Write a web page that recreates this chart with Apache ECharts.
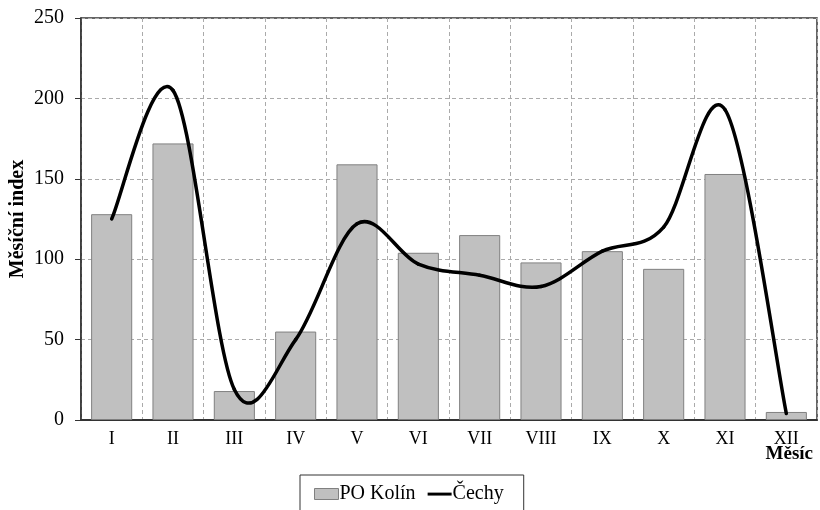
<!DOCTYPE html>
<html>
<head>
<meta charset="utf-8">
<script src="https://cdn.jsdelivr.net/npm/echarts@6/dist/echarts.min.js"></script>
<style>html,body{margin:0;padding:0;background:#fff}#c{width:820px;height:510px}</style>
</head>
<body>
<div id="c"></div>
<script>
const months = ['I','II','III','IV','V','VI','VII','VIII','IX','X','XI','XII'];
const poKolin = [128, 172, 18, 55, 159, 104, 115, 98, 105, 94, 153, 5];
const cechy = [125, 205, 19, 50, 122, 97, 90, 83, 105, 120, 193, 4];
const yTicks = [0, 50, 100, 150, 200, 250];

const FONT = '"Liberation Serif", "Times New Roman", serif';
const chart = echarts.init(document.getElementById('c'));

// Smooth curve (Catmull-Rom style Bezier, as in spreadsheet "smoothed line"),
// each segment positioned through the chart's own axes via api.coord.
function renderSmooth(params, api) {
  const i = params.dataIndex;
  const n = cechy.length;
  if (i >= n - 1) return null;
  const pt = k => {
    const kk = Math.max(0, Math.min(n - 1, k));
    return api.coord([kk, cechy[kk]]);
  };
  const p0 = pt(i - 1), p1 = pt(i), p2 = pt(i + 1), p3 = pt(i + 2);
  return {
    type: 'bezierCurve',
    z2: 10,
    shape: {
      x1: p1[0], y1: p1[1], x2: p2[0], y2: p2[1],
      cpx1: p1[0] + (p2[0] - p0[0]) / 6, cpy1: p1[1] + (p2[1] - p0[1]) / 6,
      cpx2: p2[0] - (p3[0] - p1[0]) / 6, cpy2: p2[1] - (p3[1] - p1[1]) / 6
    },
    style: { stroke: '#000', lineWidth: 3.5, fill: null, lineCap: 'round', lineJoin: 'round' }
  };
}

chart.setOption({
  animation: false,
  backgroundColor: '#fff',
  textStyle: { fontFamily: FONT },
  title: {
    text: 'Měsíc', right: 2, top: 440,
    textStyle: { fontFamily: FONT, fontWeight: 'bold', fontSize: 19, color: '#000' }
  },
  grid: {
    left: 81, right: 3, top: 18, bottom: 90,
    containLabel: false, outerBoundsMode: 'none',
    show: true, borderColor: '#333', borderWidth: 1.5
  },
  legend: {
    left: 300, top: 475,
    padding: [9, 20, 16, 14],
    borderColor: '#333', borderWidth: 1,
    itemWidth: 24, itemHeight: 11, itemGap: 12,
    textStyle: { fontFamily: FONT, fontSize: 20, color: '#000', padding: [0, 0, 0, -4] },
    data: [
      { name: 'PO Kolín', icon: 'rect', itemStyle: { color: '#c0c0c0', borderColor: '#808080', borderWidth: 1 } },
      { name: 'Čechy', icon: 'path://M0,0 M0,4 L26,4 L26,7.2 L0,7.2 Z M26,11', itemStyle: { color: '#000', borderWidth: 0 } }
    ]
  },
  xAxis: {
    type: 'category',
    data: months,
    boundaryGap: true,
    axisLine: { lineStyle: { color: '#333', width: 2 } },
    axisTick: { interval: 1, length: 6, lineStyle: { color: '#333' } },
    axisLabel: { interval: 0, fontFamily: FONT, fontSize: 18, color: '#000', margin: 10 },
    splitLine: { show: true, interval: 0, lineStyle: { color: '#aaa', type: [4, 3] } }
  },
  yAxis: {
    type: 'value',
    min: yTicks[0], max: yTicks[yTicks.length - 1], interval: 50,
    name: 'Měsíční index', nameLocation: 'middle', nameGap: 53, nameRotate: 90,
    nameMoveOverlap: false,
    nameTextStyle: { fontFamily: FONT, fontWeight: 'bold', fontSize: 20, color: '#000' },
    axisLine: { show: true, lineStyle: { color: '#333', width: 1.5 } },
    axisTick: { show: true, length: 6, lineStyle: { color: '#333' } },
    axisLabel: { fontFamily: FONT, fontSize: 20, color: '#000', margin: 17 },
    splitLine: { show: true, lineStyle: { color: '#aaa', type: [4, 3] } }
  },
  series: [
    {
      name: 'PO Kolín', type: 'bar', data: poKolin, z: 2,
      barCategoryGap: '33%',
      itemStyle: { color: '#c0c0c0', borderColor: '#808080', borderWidth: 1 }
    },
    {
      name: 'Čechy', type: 'custom', z: 5,
      data: cechy.map((v, i) => [i, v]),
      encode: { x: 0, y: 1 },
      itemStyle: { color: '#000' },
      renderItem: renderSmooth
    }
  ]
});
</script>
</body>
</html>
